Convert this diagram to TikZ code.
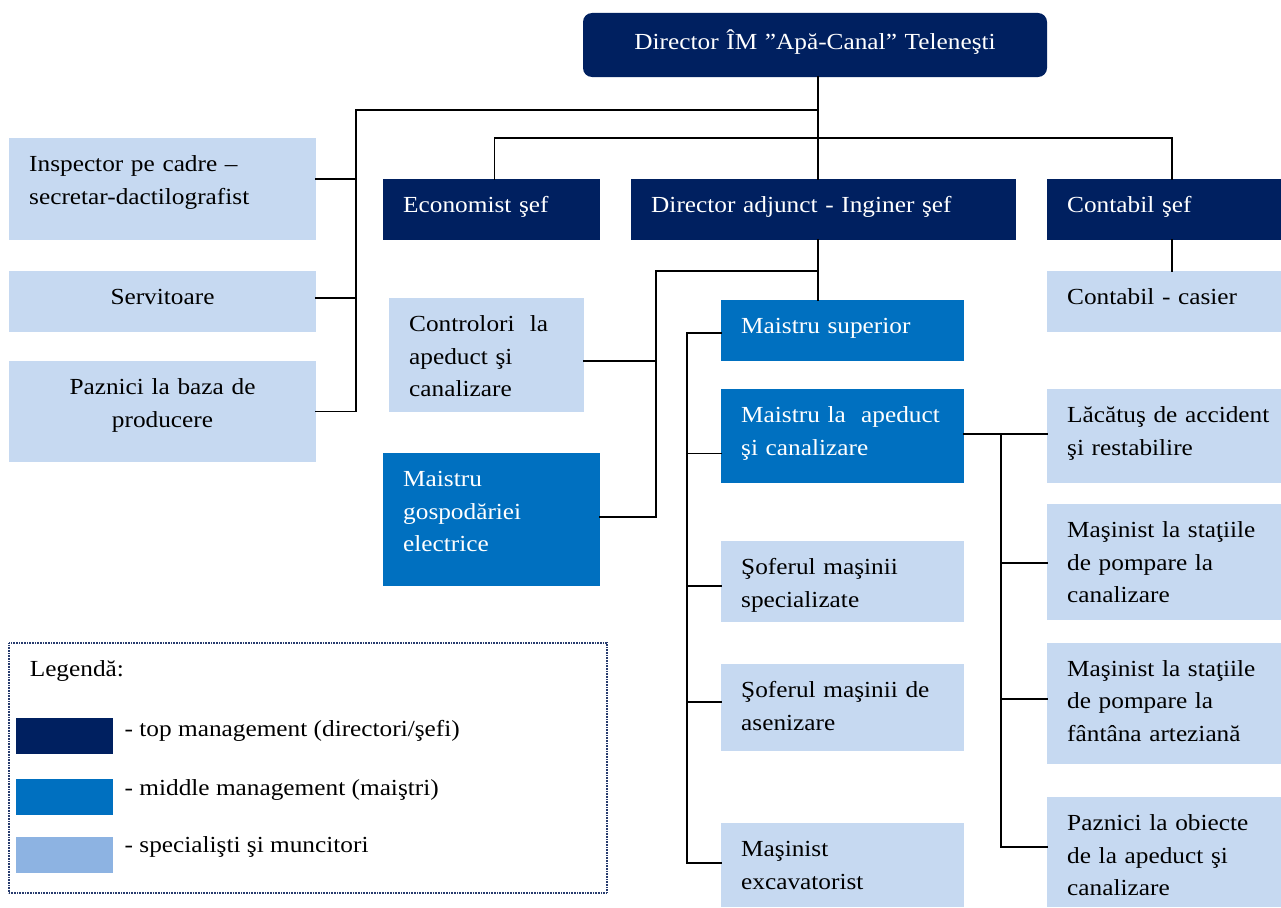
\documentclass[tikz,border=0pt]{standalone}
\usepackage{fontspec}
\setmainfont{Liberation Serif}[FakeStretch=1.1]
\definecolor{topC}{RGB}{0,32,96}
\definecolor{midC}{RGB}{0,112,192}
\definecolor{lowC}{RGB}{198,217,241}
\definecolor{lowKey}{RGB}{141,179,226}
\definecolor{frameC}{RGB}{40,60,110}
\newcommand\chartfont{\fontsize{23}{32.5}\selectfont}
% box: name, style, x1, y1, x2, y2
\newcommand\OrgBox[6]{%
  \node[#2, minimum width={#5-#3}, minimum height={#6-#4}] (#1) at ({(#3+#5)/2},{(#4+#6)/2}) {};}
% left-aligned label inside a box
\newcommand\OrgText[3]{%
  \node[lbl, #2] at ([shift={(20,11)}]#1.north west) {#3};}
% centred label inside a box
\newcommand\OrgTextC[4]{%
  \node[lblc, #2] at ([yshift=-#3pt]#1.north) {#4};}
\begin{document}
\begin{tikzpicture}[x=1pt,y=-1pt,
  box/.style={rectangle, draw=none, inner sep=0pt, outer sep=0pt},
  topbox/.style={box, fill=topC},
  midbox/.style={box, fill=midC},
  lowbox/.style={box, fill=lowC},
  lbl/.style={inner sep=0pt, anchor=north west, text width=420pt, align=left, font=\chartfont, execute at begin node=\strut},
  lblc/.style={inner sep=0pt, anchor=north, text width=440pt, align=center, font=\chartfont, execute at begin node=\strut},
  wtext/.style={text=white},
  btext/.style={text=black},
  link/.style={draw=black, line width=1.6pt, line cap=rect}]
\useasboundingbox (0,0) rectangle (1281,907);

% ---- bus points of the connectors ----
\coordinate (busA) at (818,110);
\coordinate (lbus) at (356,110);
\coordinate (eb) at (494.5,138);
\coordinate (cb) at (1172,138);
\coordinate (mb) at (656,270.7);
\coordinate (vtop) at (686.7,332.7);
\coordinate (v2) at (686.7,453.3);
\coordinate (v3) at (686.7,586);
\coordinate (v4) at (686.7,702);
\coordinate (vbot) at (686.7,863);
\coordinate (r1) at (1001,434);
\coordinate (r2) at (1001,563);
\coordinate (r3) at (1001,699);
\coordinate (rbot) at (1001,847);
\coordinate (ci) at (356,179);
\coordinate (cs2) at (356,297.7);
\coordinate (cpz) at (356,411.5);
\coordinate (cctl) at (656,360.7);
\coordinate (cmge) at (656,516.7);

% ---- boxes ----
\node[topbox, rounded corners=9pt, minimum width=464, minimum height=64] (dir) at (815,45) {};
\OrgBox{insp}{lowbox}{9}{138}{316}{239.5}
\OrgBox{serv}{lowbox}{9}{271}{316}{331.7}
\OrgBox{pzb}{lowbox}{9}{361}{316}{461.7}
\OrgBox{eco}{topbox}{383}{179}{600}{239.5}
\OrgBox{adj}{topbox}{631}{179}{1016}{239.5}
\OrgBox{cs}{topbox}{1047}{179}{1281}{239.5}
\OrgBox{cc}{lowbox}{1047}{271}{1281}{331.7}
\OrgBox{ctl}{lowbox}{389}{298}{584}{411.7}
\OrgBox{mge}{midbox}{383}{453}{600}{585.7}
\OrgBox{ms}{midbox}{721}{300}{964}{360.7}
\OrgBox{ma}{midbox}{721}{389}{964}{483.3}
\OrgBox{ss}{lowbox}{721}{541}{964}{622}
\OrgBox{sa}{lowbox}{721}{664}{964}{751}
\OrgBox{mx}{lowbox}{721}{823}{964}{907}
\OrgBox{lac}{lowbox}{1047}{389}{1281}{482.5}
\OrgBox{mcn}{lowbox}{1047}{504}{1281}{619.5}
\OrgBox{mfa}{lowbox}{1047}{642.5}{1281}{764}
\OrgBox{pzo}{lowbox}{1047}{797}{1281}{907}

% ---- lines between the boxes ----
\draw[link] (dir.south -| busA) -- (adj.north -| busA);
\draw[link] (busA) -- (lbus) -- (cpz) -- (cpz -| pzb.east);
\draw[link] (ci -| insp.east) -- (ci);
\draw[link] (cs2 -| serv.east) -- (cs2);
\draw[link] (eco.north -| eb) -- (eb) -- (cb) -- (cs.north -| cb);
\draw[link] (cs.south -| cb) -- (cc.north -| cb);
\draw[link] (adj.south -| busA) -- (ms.north -| busA);
\draw[link] (mb -| busA) -- (mb) -- (cmge) -- (cmge -| mge.east);
\draw[link] (cctl -| ctl.east) -- (cctl);
\draw[link] (vtop -| ms.west) -- (vtop) -- (vbot) -- (vbot -| mx.west);
\draw[link] (v2) -- (v2 -| ma.west);
\draw[link] (v3) -- (v3 -| ss.west);
\draw[link] (v4) -- (v4 -| sa.west);
\draw[link] (r1 -| ma.east) -- (r1 -| lac.west);
\draw[link] (r1) -- (rbot) -- (rbot -| pzo.west);
\draw[link] (r2) -- (r2 -| mcn.west);
\draw[link] (r3) -- (r3 -| mfa.west);

% ---- labels ----
\OrgTextC{dir}{wtext}{14}{Director ÎM ”Apă-Canal” Teleneşti}
\OrgText{insp}{btext}{Inspector pe cadre –\\secretar-dactilografist}
\OrgTextC{serv}{btext}{11}{Servitoare}
\OrgTextC{pzb}{btext}{11}{Paznici la baza de\\producere}
\OrgText{eco}{wtext}{Economist şef}
\OrgText{adj}{wtext}{Director adjunct - Inginer şef}
\OrgText{cs}{wtext}{Contabil şef}
\OrgText{cc}{btext}{Contabil - casier}
\OrgText{ctl}{btext}{Controlori\ \ la\\apeduct şi\\canalizare}
\OrgText{mge}{wtext}{Maistru\\gospodăriei\\electrice}
\OrgText{ms}{wtext}{Maistru superior}
\OrgText{ma}{wtext}{Maistru la\ \ apeduct\\şi canalizare}
\OrgText{ss}{btext}{Şoferul maşinii\\specializate}
\OrgText{sa}{btext}{Şoferul maşinii de\\asenizare}
\OrgText{mx}{btext}{Maşinist\\excavatorist}
\OrgText{lac}{btext}{Lăcătuş de accident\\şi restabilire}
\OrgText{mcn}{btext}{Maşinist la staţiile\\de pompare la\\canalizare}
\OrgText{mfa}{btext}{Maşinist la staţiile\\de pompare la\\fântâna arteziană}
\OrgText{pzo}{btext}{Paznici la obiecte\\de la apeduct şi\\canalizare}

% ---- legend ----
\OrgBox{legend}{box, draw=frameC, line width=1.4pt, dash pattern=on 0.9pt off 0.7pt}{9}{643}{607}{893}
\node[anchor=base west, inner sep=0pt, font=\chartfont] (legtitle) at (29.6,676.7) {Legendă:};
\OrgBox{keyTop}{topbox}{16}{718}{113}{754}
\OrgBox{keyMid}{midbox}{16}{779}{113}{815}
\OrgBox{keyLow}{box, fill=lowKey}{16}{837}{113}{873}
\node[anchor=base west, inner sep=0pt, font=\chartfont] (legA) at (124.5,736) {- top management (directori/şefi)};
\node[anchor=base west, inner sep=0pt, font=\chartfont] (legB) at (124.5,795.7) {- middle management (maiştri)};
\node[anchor=base west, inner sep=0pt, font=\chartfont] (legC) at (124.5,852.7) {- specialişti şi muncitori};
\end{tikzpicture}
\end{document}
